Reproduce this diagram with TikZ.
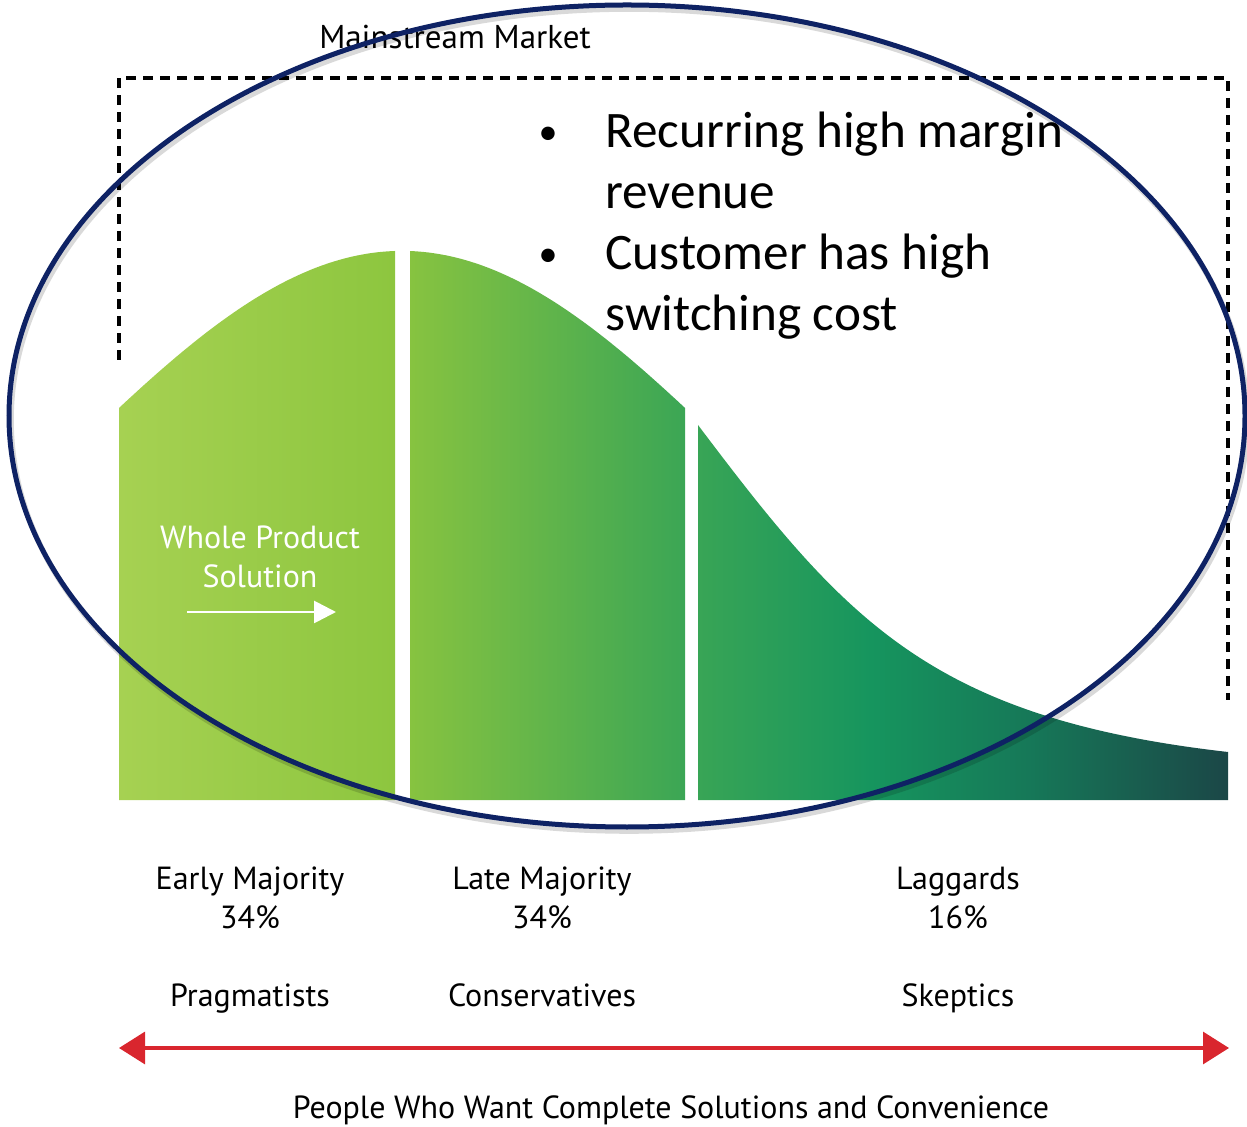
\documentclass[tikz,border=0pt]{standalone}
\usepackage{fontspec}
\setmainfont{Carlito}
\newfontfamily\labelfont{PT Sans}
\usetikzlibrary{arrows.meta}

\definecolor{ringblue}{HTML}{0E2264}
\definecolor{axisred}{HTML}{D9262E}
\definecolor{g0}{HTML}{A6D152}
\definecolor{g1}{HTML}{8DC63F}
\definecolor{g2}{HTML}{87C340}
\definecolor{g3}{HTML}{3BA655}
\definecolor{g4}{HTML}{16955E}
\definecolor{g5}{HTML}{167858}
\definecolor{g6}{HTML}{1B4747}

% left-to-right colour run of the adoption curve (25bp..75bp spans the shape)
\pgfdeclarehorizontalshading{bellgrad}{100bp}{%
  color(0bp)=(g0); color(25bp)=(g0); color(37.4bp)=(g1); color(38.1bp)=(g2);
  color(50.5bp)=(g3); color(58.9bp)=(g4); color(66bp)=(g5); color(75bp)=(g6);
  color(100bp)=(g6)}

\tikzset{
  lbl/.style={font=\labelfont\fontsize{16}{19}\selectfont, anchor=base, inner sep=0pt},
  bullettext/.style={font=\fontsize{25.6}{31}\selectfont, anchor=base west, inner sep=0pt},
  bulletdot/.style={font=\fontsize{19}{23}\selectfont, anchor=base, inner sep=0pt},
  marketbox/.style={black, line width=1.7pt, dash pattern=on 5pt off 3.5pt},
  ring/.style={ringblue, line width=2.5pt},
  ringshadow/.style={black, opacity=0.15, line width=2.8pt},
  axis/.style={axisred, line width=1.6pt, {Triangle[length=13pt,width=16pt]}-{Triangle[length=13pt,width=16pt]}},
  whitearrow/.style={white, line width=1.4pt, -{Triangle[length=11pt,width=11pt]}},
}

\begin{document}
\begin{tikzpicture}[x=0.5pt,y=-0.5pt]
\useasboundingbox (0,0) rectangle (1247,1127);

% the three adoption segments, shaded as one path
\shade[shading=bellgrad]
  (119,800) -- plot[domain=119:395, samples=60] (\x,{800-549*exp(-((\x-402)/487.5)^2)}) -- (395,800) -- cycle
  (410,800) -- plot[domain=410:685, samples=60] (\x,{800-549*exp(-((\x-402)/487.5)^2)}) -- (685,800) -- cycle
  (698,800) -- (698,425) .. controls (845,620) and (930,718) .. (1228,752) -- (1228,800) -- cycle;

% whole product label and its arrow
\node[lbl, white] (wp1) at (260,549) {Whole Product};
\node[lbl, white] (wp2) at (260,588) {Solution};
\coordinate (wpa) at (187,612);
\coordinate (wpb) at (336,612);
\draw[whitearrow] (wpa) -- (wpb);

% mainstream market bracket
\node[lbl, font=\labelfont\fontsize{16.5}{19}\selectfont] (mm) at (455,49) {Mainstream Market};
\coordinate (mbl) at (119,360);
\coordinate (mtl) at (119,78);
\coordinate (mtr) at (1228,78);
\coordinate (mbr) at (1228,700);
\draw[marketbox] (mbl) -- (mtl) -- (mtr) -- (mbr);

% bullet points
\node[bulletdot] (b1) at (548,145) {•};
\node[bullettext] (t1) at (605,148) {Recurring high margin};
\node[bullettext] (t2) at (605,209) {revenue};
\node[bulletdot] (b2) at (548,267) {•};
\node[bullettext] (t3) at (605,270) {Customer has high};
\node[bullettext] (t4) at (605,331) {switching cost};

% highlighted region
\draw[ringshadow] (629,420) ellipse [x radius=618, y radius=411];
\draw[ring] (627,416) ellipse [x radius=618, y radius=411];

% segment labels
\node[lbl] (em) at (250,889) {Early Majority};
\node[lbl] (emp) at (250,928) {34\%};
\node[lbl] (lm) at (542,889) {Late Majority};
\node[lbl] (lmp) at (542,928) {34\%};
\node[lbl] (lg) at (958,889) {Laggards};
\node[lbl] (lgp) at (958,928) {16\%};
\node[lbl] (pr) at (250,1006) {Pragmatists};
\node[lbl] (co) at (542,1006) {Conservatives};
\node[lbl] (sk) at (958,1006) {Skeptics};

% bottom axis
\coordinate (axl) at (119,1048);
\coordinate (axr) at (1229,1048);
\draw[axis] (axl) -- (axr);
\node[lbl] (people) at (671,1118) {People Who Want Complete Solutions and Convenience};
\end{tikzpicture}
\end{document}
